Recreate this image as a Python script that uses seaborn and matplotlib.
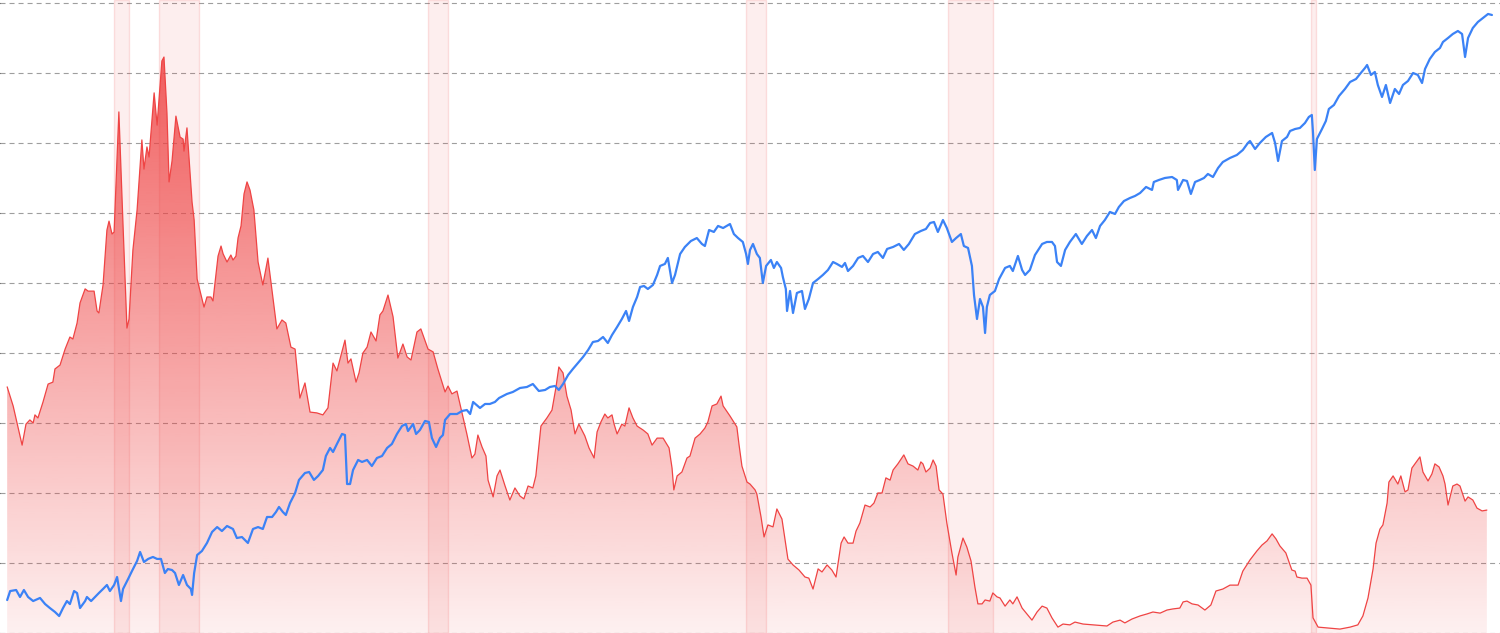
import numpy as np
import matplotlib
matplotlib.use("Agg")
import matplotlib.pyplot as plt
import seaborn as sns
from matplotlib.colors import to_rgb

# Short-term rate (%)
rate_years = [
    1976.42, 1976.62, 1976.92, 1977.05, 1977.18, 1977.29, 1977.35, 1977.45, 1977.62, 1977.79,
    1977.95, 1978.02, 1978.19, 1978.36, 1978.52, 1978.62, 1978.76, 1978.86, 1979.03, 1979.13,
    1979.33, 1979.43, 1979.49, 1979.63, 1979.76, 1979.83, 1979.93, 1980.00, 1980.16, 1980.30,
    1980.43, 1980.50, 1980.63, 1980.77, 1980.93, 1981.00, 1981.10, 1981.17, 1981.34, 1981.44,
    1981.50, 1981.60, 1981.67, 1981.77, 1981.84, 1981.94, 1982.07, 1982.21, 1982.31, 1982.34,
    1982.44, 1982.61, 1982.68, 1982.78, 1982.88, 1983.01, 1983.11, 1983.24, 1983.31, 1983.41,
    1983.48, 1983.58, 1983.65, 1983.78, 1983.91, 1983.98, 1984.08, 1984.15, 1984.25, 1984.35,
    1984.45, 1984.55, 1984.68, 1984.82, 1984.98, 1985.15, 1985.29, 1985.45, 1985.62, 1985.75,
    1985.92, 1986.06, 1986.22, 1986.39, 1986.56, 1986.79, 1986.99, 1987.16, 1987.33, 1987.46,
    1987.60, 1987.73, 1987.83, 1987.93, 1988.10, 1988.20, 1988.33, 1988.47, 1988.60, 1988.77,
    1988.90, 1989.00, 1989.17, 1989.34, 1989.50, 1989.67, 1989.81, 1989.94, 1990.14, 1990.27,
    1990.51, 1990.68, 1990.84, 1991.08, 1991.18, 1991.31, 1991.48, 1991.58, 1991.81, 1991.98,
    1992.08, 1992.18, 1992.32, 1992.45, 1992.52, 1992.69, 1992.82, 1992.92, 1993.09, 1993.25,
    1993.42, 1993.59, 1993.72, 1993.86, 1994.02, 1994.12, 1994.29, 1994.49, 1994.66, 1994.79,
    1994.89, 1995.03, 1995.16, 1995.30, 1995.43, 1995.56, 1995.76, 1995.90, 1996.07, 1996.17,
    1996.30, 1996.43, 1996.53, 1996.67, 1996.74, 1996.84, 1997.00, 1997.10, 1997.24, 1997.37,
    1997.51, 1997.71, 1997.87, 1998.01, 1998.18, 1998.38, 1998.58, 1998.68, 1998.74, 1998.85,
    1999.01, 1999.18, 1999.28, 1999.45, 1999.62, 1999.78, 1999.88, 2000.02, 2000.18, 2000.32,
    2000.39, 2000.62, 2000.85, 2000.92, 2001.02, 2001.19, 2001.29, 2001.46, 2001.52, 2001.66,
    2001.76, 2001.89, 2002.06, 2002.19, 2002.36, 2002.56, 2002.73, 2002.93, 2003.13, 2003.26,
    2003.40, 2003.57, 2003.70, 2003.87, 2004.03, 2004.17, 2004.34, 2004.44, 2004.57, 2004.74,
    2004.84, 2004.97, 2005.14, 2005.31, 2005.44, 2005.57, 2005.71, 2005.84, 2005.98, 2006.08,
    2006.24, 2006.44, 2006.58, 2006.75, 2006.91, 2007.01, 2007.08, 2007.18, 2007.32, 2007.42,
    2007.52, 2007.62, 2007.75, 2007.88, 2008.05, 2008.19, 2008.25, 2008.42, 2008.55, 2008.69,
    2008.82, 2008.92, 2009.06, 2009.16, 2009.32, 2009.42, 2009.56, 2009.66, 2009.83, 2009.99,
    2010.09, 2010.23, 2010.40, 2010.56, 2010.73, 2010.90, 2011.07, 2011.23, 2011.40, 2011.60,
    2011.77, 2012.00, 2012.17, 2012.44, 2012.77, 2013.24, 2013.44, 2013.68, 2013.84, 2014.08,
    2014.35, 2014.58, 2014.78, 2015.02, 2015.25, 2015.45, 2015.68, 2015.79, 2015.92, 2016.09,
    2016.29, 2016.52, 2016.72, 2016.89, 2017.12, 2017.36, 2017.63, 2017.79, 2018.03, 2018.26,
    2018.43, 2018.60, 2018.77, 2018.90, 2019.03, 2019.23, 2019.43, 2019.54, 2019.60, 2019.77,
    2019.94, 2020.07, 2020.14, 2020.31, 2020.61, 2021.04, 2021.38, 2021.64, 2021.81, 2021.98,
    2022.15, 2022.25, 2022.38, 2022.48, 2022.62, 2022.68, 2022.82, 2022.98, 2023.08, 2023.22,
    2023.32, 2023.45, 2023.62, 2023.72, 2023.82, 2023.99, 2024.12, 2024.22, 2024.36, 2024.49,
    2024.56, 2024.66, 2024.82, 2024.96, 2025.06, 2025.23, 2025.33, 2025.49, 2025.63, 2025.80,
    2025.96,
]
rate_values = [
    8.79, 8.11, 6.71, 7.46, 7.61, 7.50, 7.79, 7.68, 8.25, 8.89,
    8.96, 9.43, 9.57, 10.14, 10.57, 10.50, 11.07, 11.79, 12.29, 12.21,
    12.21, 11.50, 11.43, 12.43, 14.39, 14.71, 14.25, 14.32, 18.61, 14.54,
    10.89, 11.21, 13.68, 15.11, 17.61, 16.57, 17.36, 17.00, 19.29, 18.14,
    19.00, 20.43, 20.57, 18.57, 16.11, 16.86, 18.46, 17.71, 17.64, 17.21,
    18.04, 15.39, 14.75, 12.64, 12.21, 11.64, 12.00, 12.00, 11.86, 12.79,
    13.46, 13.82, 13.54, 13.25, 13.50, 13.32, 13.46, 14.11, 14.54, 15.68,
    16.11, 15.82, 15.11, 13.25, 12.43, 13.39, 12.21, 10.86, 11.18, 11.07,
    10.21, 10.14, 8.39, 8.93, 7.89, 7.86, 7.79, 8.04, 9.64, 9.36,
    9.93, 10.46, 9.64, 9.79, 8.96, 9.29, 10.00, 10.21, 10.75, 10.43,
    11.36, 11.50, 12.07, 11.29, 9.82, 10.32, 9.86, 9.75, 10.75, 10.86,
    10.14, 10.04, 9.43, 8.61, 8.82, 8.54, 8.64, 8.18, 7.11, 6.25,
    6.39, 7.07, 6.64, 6.32, 5.46, 4.86, 5.61, 5.82, 5.25, 4.75,
    5.18, 4.89, 4.79, 5.25, 5.18, 5.61, 7.39, 7.68, 7.96, 8.75,
    9.50, 9.29, 8.46, 7.96, 7.11, 7.46, 7.04, 6.61, 6.25, 7.18,
    7.54, 7.82, 7.68, 7.79, 7.46, 7.11, 7.46, 7.39, 8.04, 7.68,
    7.39, 7.25, 7.11, 6.71, 6.96, 6.96, 6.61, 5.89, 5.11, 5.61,
    5.75, 6.25, 6.32, 6.96, 7.11, 7.32, 7.54, 8.11, 8.18, 8.46,
    8.11, 7.75, 7.36, 6.75, 5.96, 5.39, 5.32, 5.11, 4.96, 4.14,
    3.43, 3.86, 3.79, 4.43, 4.07, 2.64, 2.43, 2.25, 2.00, 1.96,
    1.57, 2.29, 2.18, 2.43, 2.25, 2.00, 3.21, 3.43, 3.21, 3.21,
    3.64, 3.93, 4.57, 4.50, 4.64, 5.00, 5.00, 5.54, 5.46, 5.82,
    6.04, 6.36, 6.04, 5.96, 5.82, 6.11, 6.04, 5.75, 5.89, 6.18,
    5.96, 5.11, 4.96, 3.93, 2.86, 2.07, 2.71, 3.39, 3.07, 2.57,
    1.64, 1.04, 1.04, 1.18, 1.14, 1.43, 1.29, 1.25, 0.96, 1.18,
    1.04, 1.29, 0.89, 0.68, 0.46, 0.75, 0.96, 0.89, 0.54, 0.21,
    0.32, 0.29, 0.39, 0.32, 0.29, 0.25, 0.39, 0.46, 0.36, 0.50,
    0.61, 0.68, 0.75, 0.71, 0.82, 0.86, 0.89, 1.11, 1.14, 1.04,
    1.00, 0.82, 1.00, 1.50, 1.57, 1.71, 1.71, 2.21, 2.61, 2.93,
    3.14, 3.29, 3.54, 3.36, 3.11, 2.86, 2.25, 2.21, 2.00, 1.96,
    1.96, 1.71, 0.54, 0.21, 0.18, 0.14, 0.21, 0.29, 0.61, 1.25,
    2.29, 3.21, 3.71, 3.86, 4.64, 5.39, 5.61, 5.32, 5.61, 5.04,
    5.11, 5.89, 6.14, 6.29, 5.75, 5.43, 5.68, 6.04, 5.93, 5.61,
    5.32, 4.57, 5.25, 5.32, 5.25, 4.71, 4.86, 4.75, 4.46, 4.36,
    4.39,
]

# Equity index level (log scale)
spx_years = [
    1976.42, 1976.52, 1976.72, 1976.85, 1976.98, 1977.12, 1977.29, 1977.52, 1977.69, 1977.85,
    1978.02, 1978.16, 1978.29, 1978.42, 1978.52, 1978.66, 1978.76, 1978.86, 1979.03, 1979.09,
    1979.23, 1979.36, 1979.49, 1979.63, 1979.76, 1979.86, 1980.00, 1980.10, 1980.23, 1980.30,
    1980.47, 1980.60, 1980.77, 1980.87, 1981.00, 1981.14, 1981.30, 1981.44, 1981.57, 1981.70,
    1981.80, 1981.94, 1982.04, 1982.17, 1982.31, 1982.44, 1982.57, 1982.61, 1982.68, 1982.78,
    1982.94, 1983.11, 1983.28, 1983.45, 1983.61, 1983.78, 1983.98, 1984.11, 1984.28, 1984.48,
    1984.65, 1984.82, 1984.98, 1985.12, 1985.29, 1985.42, 1985.52, 1985.65, 1985.75, 1985.89,
    1986.06, 1986.19, 1986.39, 1986.53, 1986.69, 1986.83, 1986.99, 1987.09, 1987.23, 1987.33,
    1987.46, 1987.63, 1987.73, 1987.80, 1987.90, 1988.00, 1988.17, 1988.30, 1988.47, 1988.63,
    1988.80, 1988.97, 1989.14, 1989.30, 1989.47, 1989.64, 1989.77, 1989.84, 1990.01, 1990.11,
    1990.24, 1990.41, 1990.54, 1990.64, 1990.78, 1990.91, 1991.01, 1991.08, 1991.25, 1991.48,
    1991.65, 1991.81, 1991.92, 1992.02, 1992.25, 1992.42, 1992.58, 1992.75, 1992.89, 1993.15,
    1993.35, 1993.59, 1993.82, 1994.02, 1994.22, 1994.43, 1994.59, 1994.76, 1994.89, 1995.03,
    1995.20, 1995.36, 1995.53, 1995.70, 1995.87, 1996.03, 1996.20, 1996.37, 1996.53, 1996.67,
    1996.84, 1997.00, 1997.14, 1997.24, 1997.37, 1997.51, 1997.61, 1997.74, 1997.87, 1998.04,
    1998.18, 1998.28, 1998.44, 1998.54, 1998.68, 1998.78, 1998.95, 1999.11, 1999.31, 1999.51,
    1999.68, 1999.78, 1999.92, 2000.08, 2000.22, 2000.39, 2000.62, 2000.75, 2000.89, 2001.05,
    2001.16, 2001.22, 2001.29, 2001.39, 2001.52, 2001.62, 2001.72, 2001.83, 2001.99, 2002.09,
    2002.19, 2002.33, 2002.39, 2002.49, 2002.53, 2002.63, 2002.73, 2002.86, 2003.03, 2003.13,
    2003.26, 2003.40, 2003.57, 2003.73, 2003.90, 2004.07, 2004.20, 2004.37, 2004.47, 2004.57,
    2004.74, 2004.91, 2005.07, 2005.24, 2005.41, 2005.57, 2005.74, 2005.88, 2006.08, 2006.28,
    2006.44, 2006.61, 2006.81, 2007.01, 2007.18, 2007.32, 2007.45, 2007.58, 2007.75, 2007.88,
    2008.05, 2008.19, 2008.35, 2008.45, 2008.59, 2008.72, 2008.79, 2008.89, 2008.99, 2009.09,
    2009.16, 2009.22, 2009.32, 2009.49, 2009.63, 2009.83, 2009.99, 2010.09, 2010.26, 2010.40,
    2010.50, 2010.66, 2010.83, 2011.07, 2011.23, 2011.40, 2011.50, 2011.57, 2011.70, 2011.84,
    2012.00, 2012.20, 2012.40, 2012.57, 2012.74, 2012.87, 2013.01, 2013.17, 2013.34, 2013.51,
    2013.64, 2013.81, 2014.01, 2014.18, 2014.35, 2014.55, 2014.75, 2014.81, 2014.98, 2015.18,
    2015.42, 2015.58, 2015.62, 2015.79, 2015.92, 2016.05, 2016.19, 2016.35, 2016.49, 2016.62,
    2016.79, 2016.96, 2017.12, 2017.36, 2017.59, 2017.79, 2017.96, 2018.03, 2018.20, 2018.36,
    2018.56, 2018.77, 2018.87, 2018.97, 2019.10, 2019.27, 2019.37, 2019.54, 2019.70, 2019.87,
    2020.00, 2020.10, 2020.14, 2020.20, 2020.27, 2020.44, 2020.57, 2020.67, 2020.84, 2021.01,
    2021.21, 2021.38, 2021.58, 2021.74, 2021.88, 2021.95, 2022.08, 2022.21, 2022.31, 2022.45,
    2022.58, 2022.72, 2022.88, 2023.02, 2023.15, 2023.32, 2023.49, 2023.65, 2023.79, 2023.89,
    2024.05, 2024.22, 2024.39, 2024.49, 2024.66, 2024.82, 2024.99, 2025.13, 2025.23, 2025.33,
    2025.49, 2025.66, 2025.83, 2026.00, 2026.13,
]
spx_values = [
    97.8, 104.4, 105.2, 100.0, 105.2, 100.0, 97.1, 99.3, 95.0, 92.3,
    89.7, 87.1, 92.3, 97.1, 95.0, 104.4, 102.9, 92.3, 97.1, 100.0,
    97.1, 100.0, 102.9, 106.0, 109.1, 104.4, 109.1, 115.6, 97.1, 106.0,
    114.0, 120.8, 129.9, 138.6, 128.9, 131.8, 133.7, 131.8, 131.8, 119.0,
    122.5, 121.6, 119.0, 109.1, 117.3, 109.1, 106.0, 101.5, 119.0, 135.6,
    139.6, 148.0, 160.3, 166.1, 161.4, 167.4, 163.8, 153.4, 154.5, 148.0,
    163.8, 166.1, 163.8, 178.7, 178.7, 185.3, 192.2, 185.3, 181.3, 197.8,
    212.7, 233.8, 245.9, 247.7, 233.8, 240.6, 251.3, 278.2, 294.9, 286.4,
    303.5, 326.4, 324.0, 227.0, 227.0, 251.3, 270.3, 266.4, 270.3, 258.7,
    274.2, 278.2, 294.9, 303.5, 326.4, 345.9, 350.9, 333.5, 350.9, 326.4,
    336.0, 358.7, 356.1, 317.0, 297.0, 317.0, 324.0, 361.3, 377.3, 377.3,
    385.7, 388.4, 377.3, 411.7, 394.2, 405.8, 405.8, 411.7, 423.8, 436.3,
    442.7, 455.7, 459.0, 469.1, 445.9, 449.2, 459.0, 462.4, 449.2, 469.1,
    500.8, 523.1, 546.4, 570.7, 600.4, 636.3, 640.9, 659.8, 631.7, 669.4,
    709.5, 751.9, 796.9, 741.1, 820.3, 882.1, 948.4, 955.4, 934.8, 962.4,
    1035, 1105, 1121, 1171, 976.4, 1035, 1205, 1268, 1324, 1353,
    1296, 1277, 1434, 1414, 1477, 1455, 1498, 1393, 1353, 1315,
    1205, 1121, 1241, 1296, 1205, 1171, 976.4, 1105, 1154, 1089,
    1137, 1089, 1020, 934.8, 796.9, 921.3, 785.4, 908.0, 921.3, 808.5,
    869.4, 976.4, 1005, 1035, 1073, 1137, 1121, 1097, 1129, 1065,
    1105, 1171, 1188, 1137, 1205, 1223, 1171, 1250, 1268, 1296,
    1241, 1296, 1393, 1424, 1445, 1509, 1520, 1414, 1542, 1455,
    1315, 1353, 1393, 1277, 1259, 1105, 895.0, 751.9, 869.4, 820.3,
    679.2, 820.3, 895.0, 921.3, 1005, 1089, 1105, 1065, 1188, 1073,
    1035, 1073, 1196, 1296, 1315, 1315, 1277, 1137, 1105, 1241,
    1315, 1393, 1296, 1373, 1434, 1353, 1477, 1542, 1635, 1611,
    1695, 1770, 1809, 1836, 1876, 1960, 1918, 2032, 2062, 2092,
    2107, 2062, 1918, 2062, 2047, 1863, 2032, 2062, 2092, 2154,
    2107, 2249, 2349, 2419, 2472, 2563, 2697, 2736, 2582, 2697,
    2817, 2900, 2697, 2367, 2736, 2817, 2942, 2985, 3007, 3118,
    3257, 3305, 2900, 2217, 2776, 2985, 3164, 3452, 3553, 3793,
    3991, 4199, 4291, 4482, 4648, 4750, 4418, 4515, 4108, 3766,
    4108, 3605, 3991, 3849, 4108, 4230, 4482, 4418, 4168, 4614,
    4962, 5220, 5374, 5613, 5778, 5948, 6079, 5948, 5034, 5778,
    6213, 6490, 6681, 6878, 6828,
]

# Recession periods (shaded)
recession_starts = [1980.00, 1981.50, 1990.50, 2001.17, 2007.92, 2020.08]
recession_ends = [1980.50, 1982.83, 1991.17, 2001.83, 2009.42, 2020.25]

RED = "#ef4444"
BLUE = "#3b82f6"

sns.set_style("white")
plt.rcParams["lines.scale_dashes"] = False

fig = plt.figure(figsize=(15, 6.33), dpi=100)
ax = fig.add_axes([0, 0, 1, 1])

x_min, x_max = 1976.18, 2026.40
rate_top = 22.607

# gradient filled area under the rate line
poly = ax.fill_between(rate_years, rate_values, 0, color="none", linewidth=0)
grad = np.zeros((256, 1, 4))
grad[..., :3] = to_rgb(RED)
grad[..., 3] = np.linspace(0.92, 0.08, 256)[:, None]
img = ax.imshow(grad, extent=[x_min, x_max, 0, rate_top], origin="upper",
                aspect="auto", zorder=1, interpolation="bilinear")
img.set_clip_path(poly.get_paths()[0], transform=ax.transData)

for s, e in zip(recession_starts, recession_ends):
    ax.axvspan(s, e, facecolor=(0.937, 0.267, 0.267, 0.09),
               edgecolor=(0.937, 0.267, 0.267, 0.15), linewidth=1, zorder=2)

sns.lineplot(x=rate_years, y=rate_values, ax=ax, color=RED, linewidth=0.9, zorder=3)

ax.set_xlim(x_min, x_max)
ax.set_ylim(0, rate_top)
ax.set_yticks(np.arange(0, 22.6, 2.5))
ax.set_axisbelow(True)
ax.yaxis.grid(True, color="#9e9e9e", linewidth=0.8, linestyle=(0, (3.6, 2.9)))
ax.xaxis.grid(False)
ax.tick_params(left=False, bottom=False, labelleft=False, labelbottom=False)
ax.set_xlabel("")
ax.set_ylabel("")
for sp in ax.spines.values():
    sp.set_visible(False)

# index line on its own log axis
ax2 = ax.twinx()
sns.lineplot(x=spx_years, y=spx_values, ax=ax2, color=BLUE, linewidth=1.6)
ax2.set_yscale("log")
ax2.set_ylim(77.0, 7612)
ax2.set_xlim(x_min, x_max)
ax2.grid(False)
ax2.tick_params(right=False, labelright=False, which="both")
ax2.set_ylabel("")
for sp in ax2.spines.values():
    sp.set_visible(False)

fig.savefig("out.png", dpi=100)
